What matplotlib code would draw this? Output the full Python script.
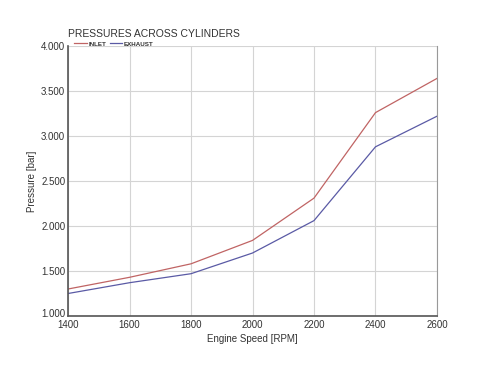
import matplotlib
matplotlib.use("Agg")
import matplotlib.pyplot as plt
from matplotlib.ticker import FormatStrFormatter
from matplotlib.lines import Line2D
from matplotlib.transforms import ScaledTranslation

plt.rcParams['font.family'] = ['Liberation Sans', 'DejaVu Sans']

rpm = [1400, 1600, 1800, 2000, 2200, 2400, 2600]
inlet = [1.30, 1.43, 1.58, 1.84, 2.31, 3.26, 3.64]
exhaust = [1.25, 1.37, 1.47, 1.70, 2.06, 2.88, 3.22]
series_names = ["INLET", "EXHAUST"]

red = "#c06464"
blue = "#5a5aa5"
txt = "#333333"

fig = plt.figure(figsize=(4.8, 3.69), dpi=100)
ax = fig.add_axes([0.1417, 0.1436, 0.7687, 0.7317])

ax.plot(rpm, inlet, color=red, lw=0.9)
ax.plot(rpm, exhaust, color=blue, lw=0.9)

ax.set_xlim(1400, 2600)
ax.set_ylim(1.0, 4.0)
ax.set_xticks(rpm)
ax.set_yticks([1.0, 1.5, 2.0, 2.5, 3.0, 3.5, 4.0])
ax.yaxis.set_major_formatter(FormatStrFormatter('%.3f'))
ax.grid(True, color="#d4d4d4", lw=0.8)
ax.set_axisbelow(True)

ax.spines['top'].set_visible(False)
ax.spines['left'].set_color("#555555")
ax.spines['bottom'].set_color("#555555")
ax.spines['right'].set_color("#999999")
ax.spines['left'].set_linewidth(1.2)
ax.spines['bottom'].set_linewidth(1.2)

ax.tick_params(axis='both', labelsize=7, colors=txt, length=0, pad=2)
ax.tick_params(axis='x', pad=3)
ax.set_xlabel("Engine Speed [RPM]", fontsize=7, color=txt, labelpad=3)
ax.set_ylabel("Pressure [bar]", fontsize=7, color=txt, labelpad=3)

# nudge the bottom y label up a little, as in the reference
lbl = ax.get_yticklabels()[0]
lbl.set_transform(lbl.get_transform() + ScaledTranslation(0, 2 / 72, fig.dpi_scale_trans))

fig.text(0.1417, 0.895, "PRESSURES ACROSS CYLINDERS", fontsize=7.5, color=txt, va='bottom')

handles = [Line2D([], [], color=red, lw=0.9), Line2D([], [], color=blue, lw=0.9)]
leg = fig.legend(handles, series_names, loc='upper left', bbox_to_anchor=(0.148, 0.897),
                 ncol=2, frameon=False, fontsize=4.5, handlelength=2.0, handletextpad=0.3,
                 columnspacing=0.5, borderpad=0)
for t in leg.get_texts():
    t.set_color(txt)
    t.set_fontweight('bold')

fig.savefig("out.png", dpi=100)
